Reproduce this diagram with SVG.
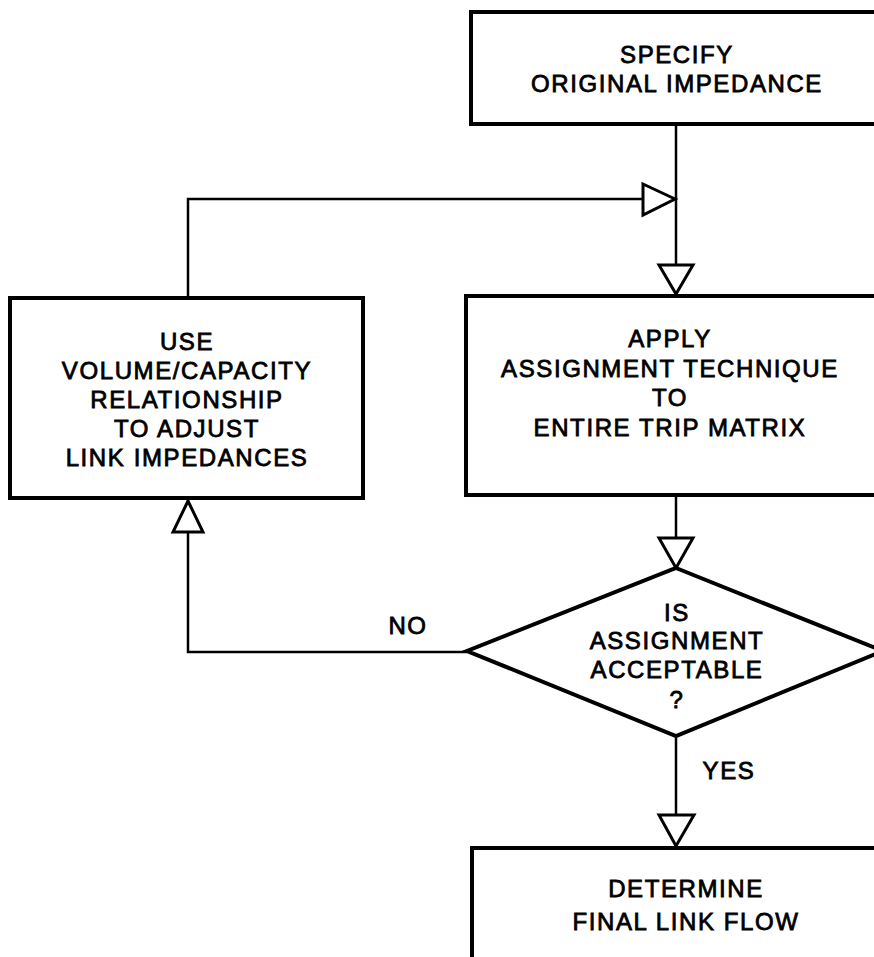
<svg xmlns="http://www.w3.org/2000/svg" width="874" height="957" viewBox="0 0 874 957">
  <style>
    .box { fill: #fff; stroke: #000; stroke-width: 4; }
    .line { fill: none; stroke: #000; stroke-width: 2.5; }
    .head { fill: #fff; stroke: #000; stroke-width: 3; stroke-linejoin: miter; }
    text { font-family: "Liberation Sans", Arial, sans-serif; font-size: 24px; letter-spacing: 1.6px; fill: #000; stroke: #000; stroke-width: 0.8; text-anchor: middle; }
  </style>
  <rect width="874" height="957" fill="#fff"/>

  <!-- connectors -->
  <g id="connectors">
    <!-- top box down to apply box -->
    <line class="line" x1="676" y1="124" x2="676" y2="294"/>
    <!-- feedback loop from adjust box back to main line -->
    <polyline class="line" points="188,298 188,199 676,199"/>
    <polygon class="head" points="643,184 643,215 675,199"/>
    <polygon class="head" points="659,265 693,265 676,294"/>
    <!-- apply box down to decision -->
    <line class="line" x1="676" y1="495" x2="676" y2="568"/>
    <polygon class="head" points="659,538 693,538 676,568"/>
    <!-- NO branch -->
    <polyline class="line" points="467,652 188,652 188,500"/>
    <polygon class="head" points="173,532 203,532 188,501"/>
    <text x="408" y="634">NO</text>
    <!-- YES branch -->
    <line class="line" x1="676" y1="736" x2="676" y2="846"/>
    <polygon class="head" points="659,815 694,815 676,846"/>
    <text x="729" y="779">YES</text>
  </g>

  <g id="specify">
    <rect class="box" x="471" y="12" width="420" height="112"/>
    <text x="677" y="63">SPECIFY</text>
    <text x="677" y="92">ORIGINAL IMPEDANCE</text>
  </g>

  <g id="apply">
    <rect class="box" x="466" y="296" width="425" height="199"/>
    <text x="670" y="347">APPLY</text>
    <text x="670" y="377">ASSIGNMENT TECHNIQUE</text>
    <text x="670" y="406">TO</text>
    <text x="670" y="436">ENTIRE TRIP MATRIX</text>
  </g>

  <g id="adjust">
    <rect class="box" x="10" y="298" width="353" height="200"/>
    <text x="187" y="350">USE</text>
    <text x="187" y="379">VOLUME/CAPACITY</text>
    <text x="187" y="408">RELATIONSHIP</text>
    <text x="187" y="437">TO ADJUST</text>
    <text x="187" y="466">LINK IMPEDANCES</text>
  </g>

  <g id="decision">
    <polygon class="box" points="676,568 883,651 676,736 467,651"/>
    <text x="677" y="621">IS</text>
    <text x="677" y="649">ASSIGNMENT</text>
    <text x="677" y="678">ACCEPTABLE</text>
    <text x="677" y="708">?</text>
  </g>

  <g id="final">
    <rect class="box" x="472" y="848" width="420" height="130"/>
    <text x="686" y="897">DETERMINE</text>
    <text x="686" y="930">FINAL LINK FLOW</text>
  </g>
</svg>
